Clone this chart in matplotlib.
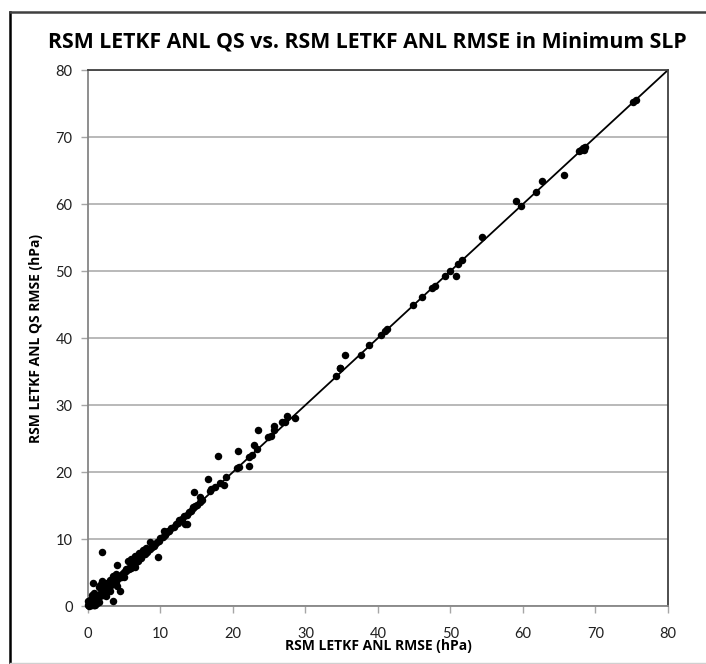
import matplotlib.pyplot as plt
from matplotlib.lines import Line2D

plt.rcParams['font.family'] = ['Lato', 'DejaVu Sans']

# RMSE of minimum SLP (hPa): control analysis (x) vs QS analysis (y)
anl_rmse = [
    # dense band near the origin
    0.0, 0.1, 0.2, 0.3, 0.4, 0.5, 0.6, 0.8, 0.9, 1.0, 1.1, 1.2, 1.3, 1.5, 1.6,
    1.8, 1.9, 2.0, 2.2, 2.3, 2.5, 2.6, 2.8, 3.0, 3.1, 3.3, 3.5, 3.6, 3.8, 4.0,
    4.2, 4.4, 4.5, 4.7, 4.9, 5.0, 5.2, 5.4, 5.6, 5.8, 6.0, 6.2, 6.4, 6.6, 6.8,
    7.0, 7.3, 7.5, 7.8, 8.0, 8.3, 8.5, 8.8, 9.0, 9.3, 9.5, 9.8, 10.0, 10.3,
    10.6, 10.9, 11.2, 11.5, 11.8, 12.1, 12.4, 12.7, 13.0, 13.3, 13.6, 13.9,
    14.2, 14.5, 14.8, 15.1, 15.4, 15.7,
    2.1, 2.7, 3.2, 3.9, 4.6, 5.3, 5.9, 6.3, 6.9, 7.4, 8.2, 9.1, 11.0, 12.6,
    # scatter around the band
    0.1, 0.3, 0.5, 0.8, 1.0, 0.7, 1.5, 1.7, 2.0, 2.2, 1.8, 2.6, 3.0, 3.5, 3.8,
    4.0, 1.9, 5.5, 6.0, 6.5, 7.0, 7.6, 8.0, 8.6, 10.5, 0.9, 1.0, 1.5, 2.5, 3.0,
    3.5, 4.4, 4.0, 5.0, 6.5, 9.6, 13.4, 13.6, 0.2, 0.4, 0.6, 0.9, 1.2, 0.0,
    # mid range
    14.5, 14.6, 15.5, 16.6, 16.9, 17.0, 17.5, 18.0, 18.2, 18.7, 19.1, 20.5,
    20.7, 20.8, 22.2, 22.2, 22.6, 22.9, 23.3, 23.4, 24.9, 25.2, 25.6, 25.7,
    26.8, 27.2, 27.4, 28.5,
    # upper range
    34.2, 34.7, 34.8, 35.5, 37.7, 38.8, 40.4, 41.0, 41.3, 44.9, 46.1, 47.5,
    47.8, 49.3, 49.9, 50.8, 51.1, 51.6, 54.3, 59.0, 59.7, 61.8, 62.6, 65.7,
    67.8, 68.0, 68.3, 68.6, 68.4, 75.2, 75.6,
]
qs_rmse = [
    0.2, 0.3, 0.1, 0.5, 0.3, 0.6, 0.5, 0.9, 0.7, 1.1, 1.0, 1.4, 1.2, 1.6, 1.5,
    2.0, 1.8, 2.1, 2.3, 2.2, 2.6, 2.5, 2.9, 3.0, 3.2, 3.4, 3.5, 3.7, 3.9, 4.1,
    4.2, 4.5, 4.4, 4.8, 4.8, 5.1, 5.2, 5.5, 5.6, 5.9, 6.1, 6.2, 6.6, 6.6, 6.9,
    7.1, 7.2, 7.6, 7.7, 8.0, 8.3, 8.5, 8.8, 9.0, 9.2, 9.6, 9.7, 10.1, 10.3,
    10.6, 11.0, 11.2, 11.6, 11.8, 12.2, 12.4, 12.8, 13.0, 13.4, 13.6, 14.0,
    14.2, 14.6, 14.9, 15.1, 15.5, 15.8,
    1.7, 2.3, 3.4, 3.6, 4.4, 5.6, 5.7, 6.6, 6.7, 7.6, 8.0, 8.9, 11.2, 12.9,
    0.6, 0.9, 1.6, 1.9, 1.5, 3.4, 2.9, 3.2, 3.8, 3.5, 2.5, 3.4, 3.9, 4.5, 4.8,
    6.1, 8.0, 6.7, 7.0, 7.4, 7.9, 8.4, 8.7, 9.5, 11.2, 0.1, 0.2, 0.6, 1.5,
    2.2, 0.8, 2.2, 3.0, 4.3, 5.8, 7.3, 12.3, 12.2, 0.0, 0.1, 0.2, 0.1, 0.4, 0.7,
    14.8, 17.0, 16.2, 19.0, 17.1, 17.4, 17.7, 22.4, 18.4, 18.1, 19.3, 20.6,
    23.2, 20.7, 22.3, 20.9, 22.5, 24.1, 23.5, 26.2, 25.3, 25.4, 26.3, 26.8,
    27.4, 27.5, 28.4, 28.1,
    34.3, 35.5, 35.6, 37.4, 37.4, 38.9, 40.4, 41.1, 41.3, 45.0, 46.1, 47.5,
    47.7, 49.3, 50.0, 49.3, 51.1, 51.7, 55.1, 60.4, 59.7, 61.8, 63.5, 64.4,
    67.9, 68.1, 68.4, 68.5, 68.0, 75.3, 75.6,
]
x_ticks = [0, 10, 20, 30, 40, 50, 60, 70, 80]
y_ticks = [0, 10, 20, 30, 40, 50, 60, 70, 80]
one_to_one = [0, 80]

fig = plt.figure(figsize=(7.06, 6.64), dpi=100)
ax = fig.add_axes([0.1246, 0.0873, 0.8215, 0.8072])

ax.grid(axis='y', color='#a6a6a6', linewidth=1.1)
ax.set_axisbelow(True)
ax.plot(one_to_one, one_to_one, color='black', linewidth=1.3, zorder=2)
ax.plot(anl_rmse, qs_rmse, 'o', color='black', markersize=5.4,
        markeredgewidth=0, zorder=3, clip_on=False)

ax.set_xlim(0, 80)
ax.set_ylim(0, 80)
ax.set_xticks(x_ticks)
ax.set_yticks(y_ticks)
ax.tick_params(axis='both', direction='out', length=5, width=1,
               color='#a6a6a6', labelsize=10.5, labelcolor='#202020')
ax.tick_params(axis='x', pad=10)
ax.tick_params(axis='y', pad=6)

for side in ['left', 'bottom']:
    ax.spines[side].set_color('#868686')
    ax.spines[side].set_linewidth(1.3)
for side in ['top', 'right']:
    ax.spines[side].set_color('#404040')
    ax.spines[side].set_linewidth(1.3)

bold_font = ['Open Sans', 'DejaVu Sans']
ax.set_xlabel('RSM LETKF ANL RMSE (hPa)', fontsize=10, fontweight='bold',
              family=bold_font, labelpad=-1)
ax.set_ylabel('RSM LETKF ANL QS RMSE (hPa)', fontsize=10, fontweight='bold',
              family=bold_font, labelpad=9)
fig.text(0.52, 0.936, 'RSM LETKF ANL QS vs. RSM LETKF ANL RMSE in Minimum SLP',
         ha='center', va='center', fontsize=15.3, fontweight='bold',
         family=bold_font)

# chart area frame
fig.add_artist(Line2D([0.0142, 0.0142], [0.0015, 0.982], color='black',
                      linewidth=1.8, transform=fig.transFigure))
fig.add_artist(Line2D([0.0142, 1.0], [0.982, 0.982], color='#404040',
                      linewidth=1.8, transform=fig.transFigure))
fig.add_artist(Line2D([0.0142, 1.0], [0.0015, 0.0015], color='#d0d0d0',
                      linewidth=1.0, transform=fig.transFigure))

fig.savefig('out.png', dpi=100)
